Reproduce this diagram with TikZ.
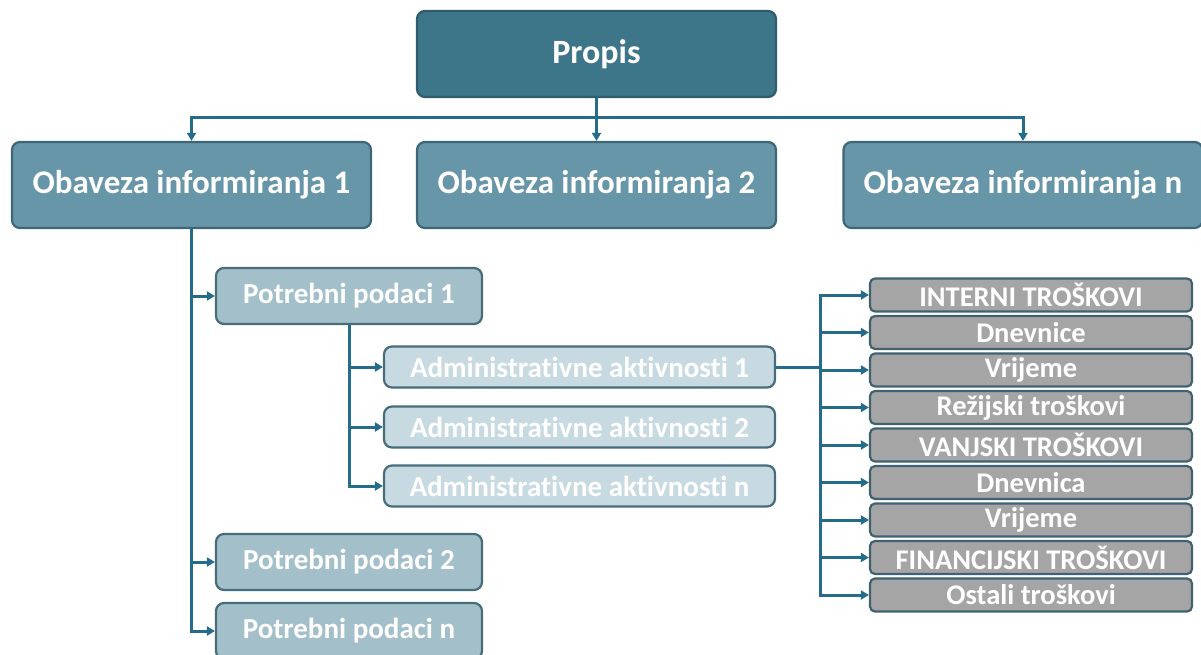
\documentclass[tikz,border=0pt]{standalone}
\usepackage{fontspec}
\setmainfont{Carlito}[Ligatures=NoCommon]
\usetikzlibrary{arrows.meta}
\definecolor{cTop}{HTML}{3D7589}
\definecolor{cTopB}{HTML}{2F5D6D}
\definecolor{cL1}{HTML}{6796A9}
\definecolor{cL1B}{HTML}{3E6676}
\definecolor{cL2}{HTML}{A3BFCA}
\definecolor{cL2B}{HTML}{476C7A}
\definecolor{cL3}{HTML}{C8DAE1}
\definecolor{cGr}{HTML}{A5A5A5}
\definecolor{cGrB}{HTML}{3F6170}
\definecolor{cLine}{HTML}{256B8A}
\begin{document}
\begin{tikzpicture}[x=1pt,y=-1pt,
  boxbase/.style={rounded corners=8pt, line width=2.2pt, inner sep=0pt, text=white, font=\bfseries, anchor=center},
  topbox/.style={boxbase, fill=cTop, draw=cTopB, minimum width=359pt, minimum height=86pt, font=\bfseries\fontsize{34}{38}\selectfont},
  lonebox/.style={boxbase, fill=cL1, draw=cL1B, minimum width=359pt, minimum height=86pt, font=\bfseries\fontsize{33}{38}\selectfont},
  ltwobox/.style={boxbase, fill=cL2, draw=cL2B, minimum width=266pt, minimum height=56pt, font=\bfseries\fontsize{29}{33}\selectfont},
  lthreebox/.style={boxbase, fill=cL3, draw=cL2B, minimum width=391pt, minimum height=41pt, font=\bfseries\fontsize{29}{33}\selectfont},
  graybox/.style={boxbase, rounded corners=5pt, fill=cGr, draw=cGrB, minimum width=322pt, minimum height=33pt, font=\bfseries\fontsize{28.5}{32}\selectfont},
  conn/.style={draw=cLine, line width=3pt},
  arr/.style={conn, -{Triangle[length=8pt,width=9pt]}}
]
\useasboundingbox (0,0) rectangle (1201,655);
\node[topbox] (propis) at (596.5,54) {Propis};
\node[lonebox] (ob1) at (191.5,185) {Obaveza informiranja 1};
\node[lonebox] (ob2) at (596.5,185) {Obaveza informiranja 2};
\node[lonebox] (obn) at (1023,185) {Obaveza informiranja n};
\node[ltwobox] (pp1) at (349,296) {Potrebni podaci 1};
\node[ltwobox] (pp2) at (349,562) {Potrebni podaci 2};
\node[ltwobox] (ppn) at (349,631) {Potrebni podaci n};
\node[lthreebox] (a1) at (579.5,367) {Administrativne aktivnosti 1};
\node[lthreebox] (a2) at (579.5,427) {Administrativne aktivnosti 2};
\node[lthreebox] (an) at (579.5,486) {Administrativne aktivnosti n};
\node[graybox] (g1) at (1031,295) {INTERNI TROŠKOVI};
\node[graybox] (g2) at (1031,332.5) {Dnevnice};
\node[graybox] (g3) at (1031,370) {Vrijeme};
\node[graybox] (g4) at (1031,407.5) {Režijski troškovi};
\node[graybox] (g5) at (1031,445) {VANJSKI TROŠKOVI};
\node[graybox] (g6) at (1031,482.5) {Dnevnica};
\node[graybox] (g7) at (1031,520) {Vrijeme};
\node[graybox] (g8) at (1031,557.5) {FINANCIJSKI TROŠKOVI};
\node[graybox] (g9) at (1031,595) {Ostali troškovi};
\coordinate (bus) at (596.5,118);
\coordinate (rb) at (820,367);
% top level
\draw[conn] (propis.south) -- (bus);
\draw[arr] (bus) -| (ob1.north);
\draw[arr] (bus) -| (obn.north);
\draw[arr] (propis.south) -- (ob2.north);
% level 1 -> 2
\draw[arr] (ob1.south) |- (pp1.west);
\draw[arr] (ob1.south) |- (pp2.west);
\draw[arr] (ob1.south) |- (ppn.west);
% level 2 -> 3
\draw[arr] (pp1.south) |- (a1.west);
\draw[arr] (pp1.south) |- (a2.west);
\draw[arr] (pp1.south) |- (an.west);
% level 3 -> costs
\draw[conn] (a1.east) -- (rb);
\foreach \g in {g1,g2,g3,g4,g5,g6,g7,g8,g9}{
  \draw[arr] (rb) |- (\g.west);
}
\end{tikzpicture}
\end{document}
